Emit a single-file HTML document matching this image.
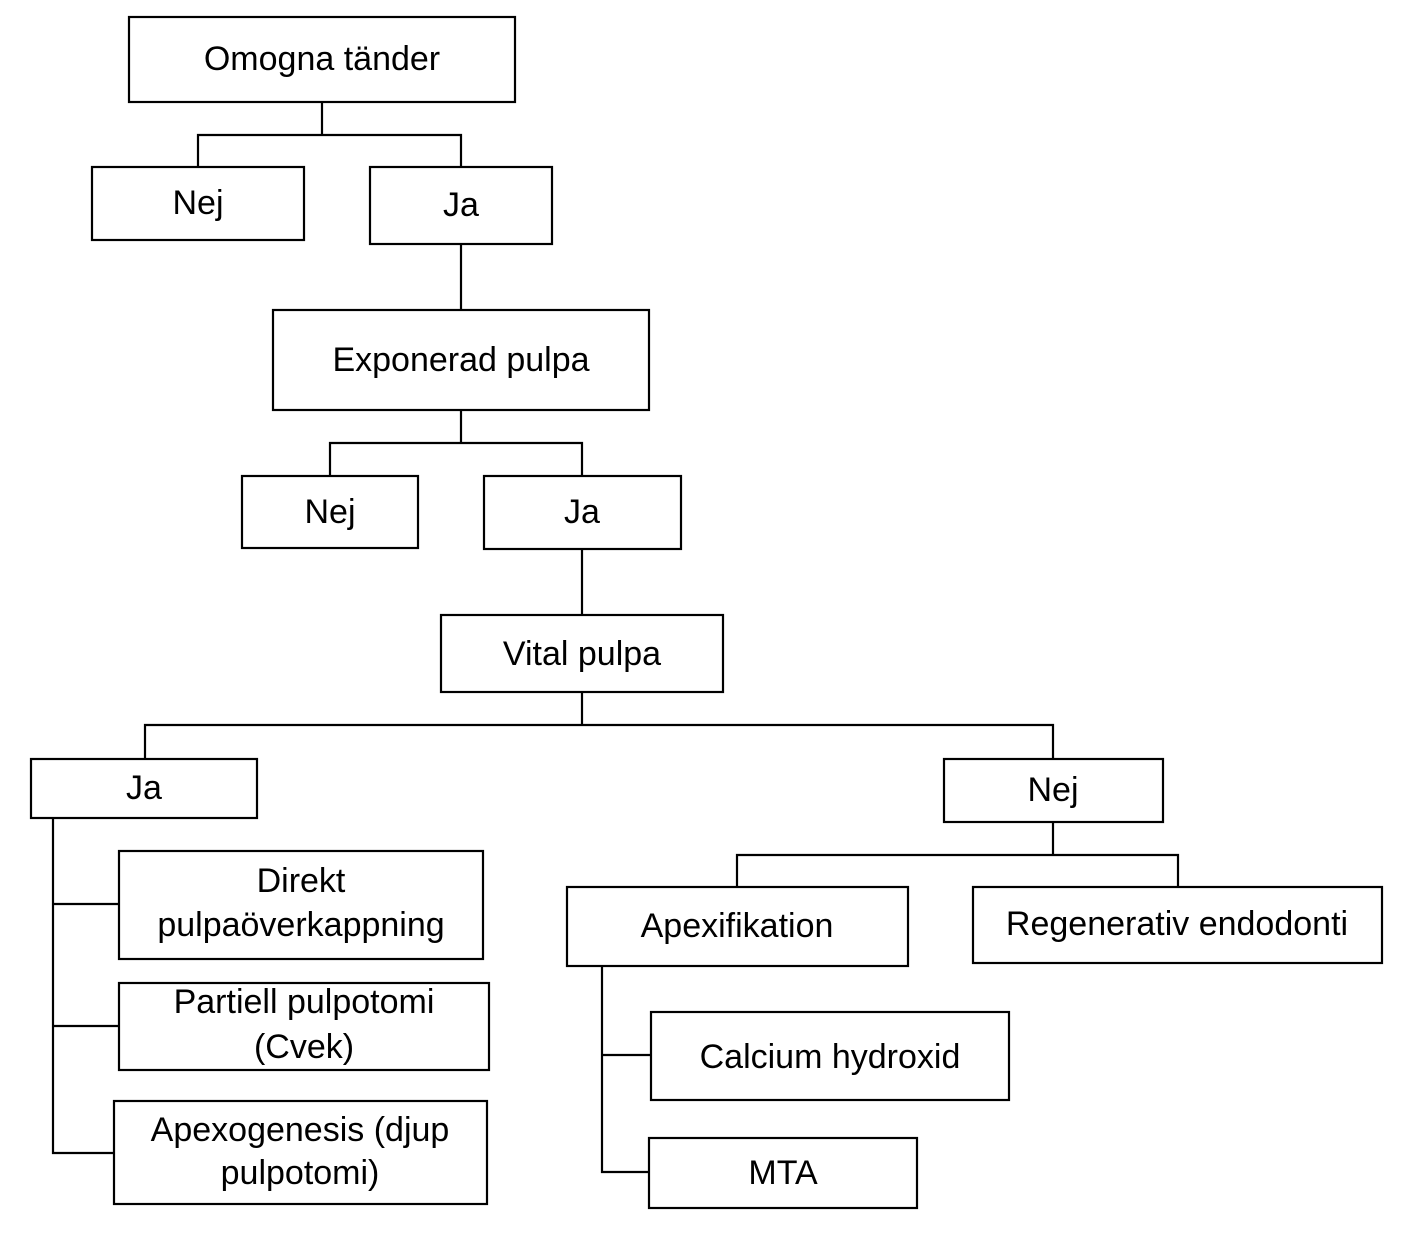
<!DOCTYPE html>
<html><head><meta charset="utf-8"><style>
html,body{margin:0;padding:0;background:#fff;}
svg text{font-family:"Liberation Sans",sans-serif;font-size:34px;fill:#000;text-anchor:middle;}
</style></head><body>
<svg width="1423" height="1251" viewBox="0 0 1423 1251" xmlns="http://www.w3.org/2000/svg">
<g fill="#fff" stroke="#000" stroke-width="2.2">
<rect x="129" y="17" width="386" height="85"/>
<rect x="92" y="167" width="212" height="73"/>
<rect x="370" y="167" width="182" height="77"/>
<rect x="273" y="310" width="376" height="100"/>
<rect x="242" y="476" width="176" height="72"/>
<rect x="484" y="476" width="197" height="73"/>
<rect x="441" y="615" width="282" height="77"/>
<rect x="31" y="759" width="226" height="59"/>
<rect x="944" y="759" width="219" height="63"/>
<rect x="119" y="851" width="364" height="108"/>
<rect x="119" y="983" width="370" height="87"/>
<rect x="114" y="1101" width="373" height="103"/>
<rect x="567" y="887" width="341" height="79"/>
<rect x="973" y="887" width="409" height="76"/>
<rect x="651" y="1012" width="358" height="88"/>
<rect x="649" y="1138" width="268" height="70"/>
</g>
<g fill="none" stroke="#000" stroke-width="2.2">
<path d="M322 102V135M198 167V135H461V167"/>
<path d="M461 244V310"/>
<path d="M461 410V443M330 476V443H582V476"/>
<path d="M582 549V615"/>
<path d="M582 692V725M145 759V725H1053V759"/>
<path d="M1053 822V855M737 887V855H1178V887"/>
<path d="M53 818V1153H114M53 904H119M53 1026H119"/>
<path d="M602 966V1172H649M602 1055H651"/>
</g>
<text x="322" y="70">Omogna tänder</text>
<text x="198" y="214">Nej</text>
<text x="461" y="216">Ja</text>
<text x="461" y="371">Exponerad pulpa</text>
<text x="330" y="523">Nej</text>
<text x="582" y="523">Ja</text>
<text x="582" y="665">Vital pulpa</text>
<text x="144" y="799">Ja</text>
<text x="1053" y="801">Nej</text>
<text x="301" y="892">Direkt</text>
<text x="301" y="936">pulpaöverkappning</text>
<text x="304" y="1013">Partiell pulpotomi</text>
<text x="304" y="1058">(Cvek)</text>
<text x="300" y="1141">Apexogenesis (djup</text>
<text x="300" y="1184">pulpotomi)</text>
<text x="737" y="937">Apexifikation</text>
<text x="1177" y="935">Regenerativ endodonti</text>
<text x="830" y="1068">Calcium hydroxid</text>
<text x="783" y="1184">MTA</text>
</svg>
</body></html>
